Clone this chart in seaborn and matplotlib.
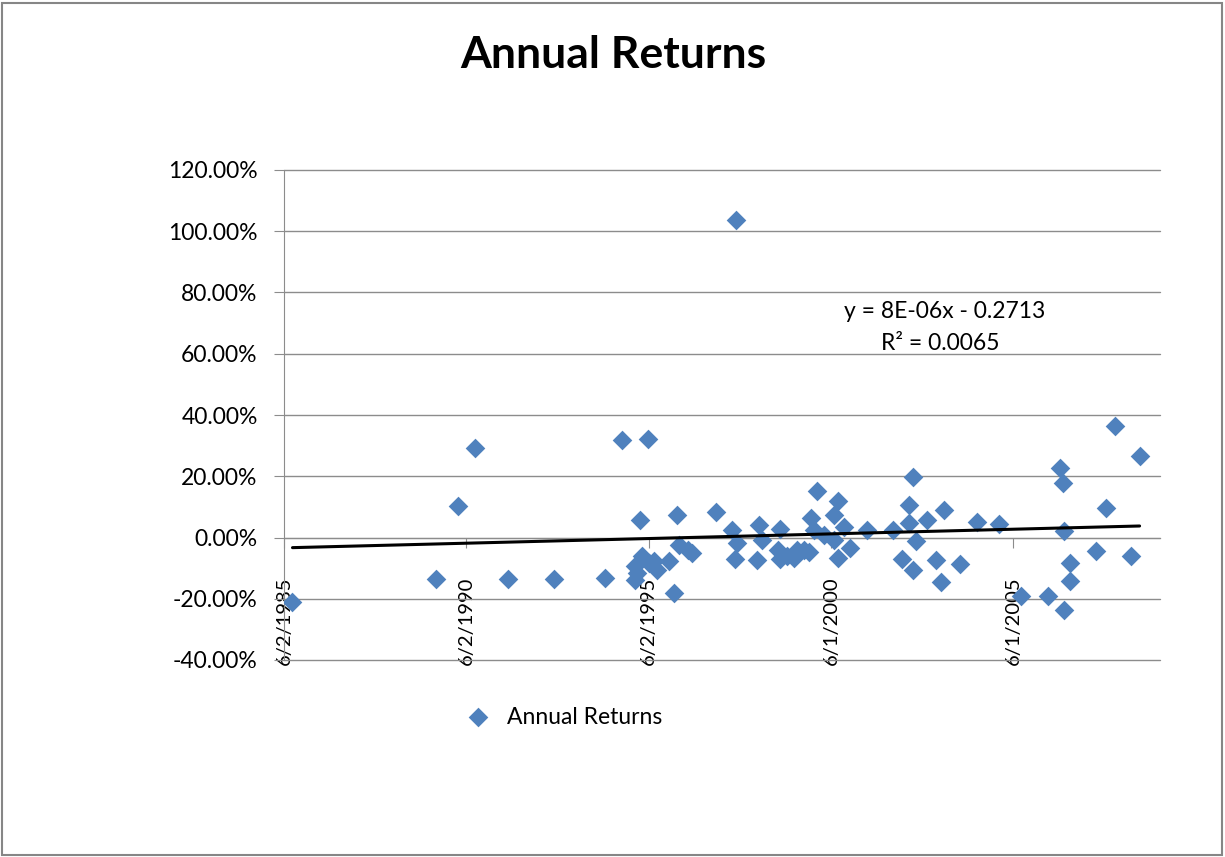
import numpy as np
import pandas as pd
import matplotlib
matplotlib.use("Agg")
import matplotlib.pyplot as plt
from matplotlib.patches import Rectangle
from matplotlib.ticker import PercentFormatter
import seaborn as sns

# Dates as decimal years, returns as fractions
years = [1985.65, 1989.57, 1990.20, 1990.66, 1991.55, 1992.81, 1994.22, 1994.67,
         1995.05, 1995.05, 1995.08, 1995.18, 1995.24, 1995.40, 1995.41, 1995.55,
         1995.65, 1995.96, 1996.10, 1996.20, 1996.24, 1996.48, 1996.61, 1997.27,
         1997.70, 1997.77, 1997.82, 1997.83, 1998.37, 1998.43, 1998.52, 1998.95,
         1999.01, 1999.01, 1999.21, 1999.39, 1999.48, 1999.66, 1999.82, 1999.86,
         1999.94, 2000.04, 2000.22, 2000.49, 2000.49, 2000.60, 2000.60, 2000.76,
         2000.94, 2001.40, 2002.11, 2002.36, 2002.54, 2002.54, 2002.66, 2002.66,
         2002.74, 2003.03, 2003.29, 2003.44, 2003.50, 2003.94, 2004.41, 2005.01,
         2005.61, 2006.36, 2006.68, 2006.77, 2006.79, 2006.79, 2006.95, 2006.97,
         2007.68, 2007.96, 2008.20, 2008.63, 2008.87]
returns = [-0.212, -0.135, 0.104, 0.291, -0.135, -0.135, -0.131, 0.318,
           -0.094, -0.138, -0.116, 0.058, -0.062, 0.321, -0.082, -0.078,
           -0.105, -0.078, -0.181, 0.073, -0.024, -0.040, -0.051, 0.084,
           0.023, -0.069, 1.038, -0.018, -0.073, 0.041, -0.007, -0.040,
           0.027, -0.070, -0.062, -0.067, -0.040, -0.040, -0.046, 0.063,
           0.025, 0.152, 0.009, 0.074, -0.007, 0.120, -0.067, 0.033,
           -0.035, 0.025, 0.025, -0.069, 0.107, 0.047, 0.198, -0.107,
           -0.013, 0.056, -0.073, -0.144, 0.090, -0.087, 0.052, 0.045,
           -0.190, -0.190, 0.226, 0.177, 0.020, -0.236, -0.083, -0.143,
           -0.043, 0.096, 0.365, -0.060, 0.266]

tick_pos = [1985.417, 1990.417, 1995.417, 2000.415, 2005.414]
tick_labels = ["6/2/1985", "6/2/1990", "6/2/1995", "6/1/2000", "6/1/2005"]

df = pd.DataFrame({"Date": years, "Annual Returns": returns})

sns.set_style("white")
plt.rcParams["font.family"] = ["Lato", "DejaVu Sans"]
plt.rcParams["axes.unicode_minus"] = False
plt.rcParams["text.color"] = "black"

fig = plt.figure(figsize=(12.25, 8.57), dpi=100)
ax = fig.add_axes([284 / 1225, 1 - 660 / 857, (1160 - 284) / 1225, (660 - 170) / 857])

grey = "#8c8c8c"
blue = "#4F81BD"

sns.scatterplot(data=df, x="Date", y="Annual Returns", marker="D", s=100,
                color=blue, linewidth=0, label="Annual Returns", ax=ax, zorder=3)
sns.regplot(data=df, x="Date", y="Annual Returns", scatter=False, ci=None,
            color="black", line_kws={"lw": 2.2, "zorder": 4}, ax=ax)

ax.set_xlim(1985.417, 2009.43)
ax.set_ylim(-0.4, 1.2)
ax.set_yticks(np.arange(-0.4, 1.21, 0.2))
ax.yaxis.set_major_formatter(PercentFormatter(1.0, decimals=2))
ax.grid(axis="y", color=grey, lw=1.0)
ax.grid(axis="x", visible=False)
for gl in ax.get_ygridlines():
    gl.set_clip_on(False)
ax.set_xlabel("")
ax.set_ylabel("")

for side in ["top", "right"]:
    ax.spines[side].set_visible(False)
ax.spines["left"].set_color(grey)
ax.spines["bottom"].set_color(grey)
ax.spines["bottom"].set_position(("data", 0))

ax.set_xticks(tick_pos, tick_labels, rotation=90)
ax.tick_params(axis="x", direction="out", length=7, color=grey, pad=21,
               labelsize=14.5, labelcolor="black", bottom=True)
ax.tick_params(axis="y", direction="out", length=7, color=grey, pad=12,
               labelsize=16.5, labelcolor="black", left=True)

fig.text(613 / 1225, 1 - 68 / 857, "Annual Returns", ha="center", va="baseline",
         fontsize=32, fontweight="bold")
fig.text(945 / 1225, 1 - 318 / 857, "y = 8E-06x - 0.2713", ha="center",
         va="baseline", fontsize=16.5)
fig.text(940 / 1225, 1 - 350 / 857, "R² = 0.0065", ha="center",
         va="baseline", fontsize=16.5)

ax.legend(loc="center left", bbox_to_anchor=(462 / 1225, 1 - 717 / 857),
          bbox_transform=fig.transFigure, frameon=False, fontsize=16.5,
          handletextpad=0.55, borderpad=0, borderaxespad=0, handlelength=1.4)

fig.add_artist(Rectangle((2 / 1225, 2 / 857), 1220 / 1225, 852 / 857,
                         transform=fig.transFigure, fill=False,
                         edgecolor="#868686", lw=1.5))

fig.savefig("out.png", dpi=100)
